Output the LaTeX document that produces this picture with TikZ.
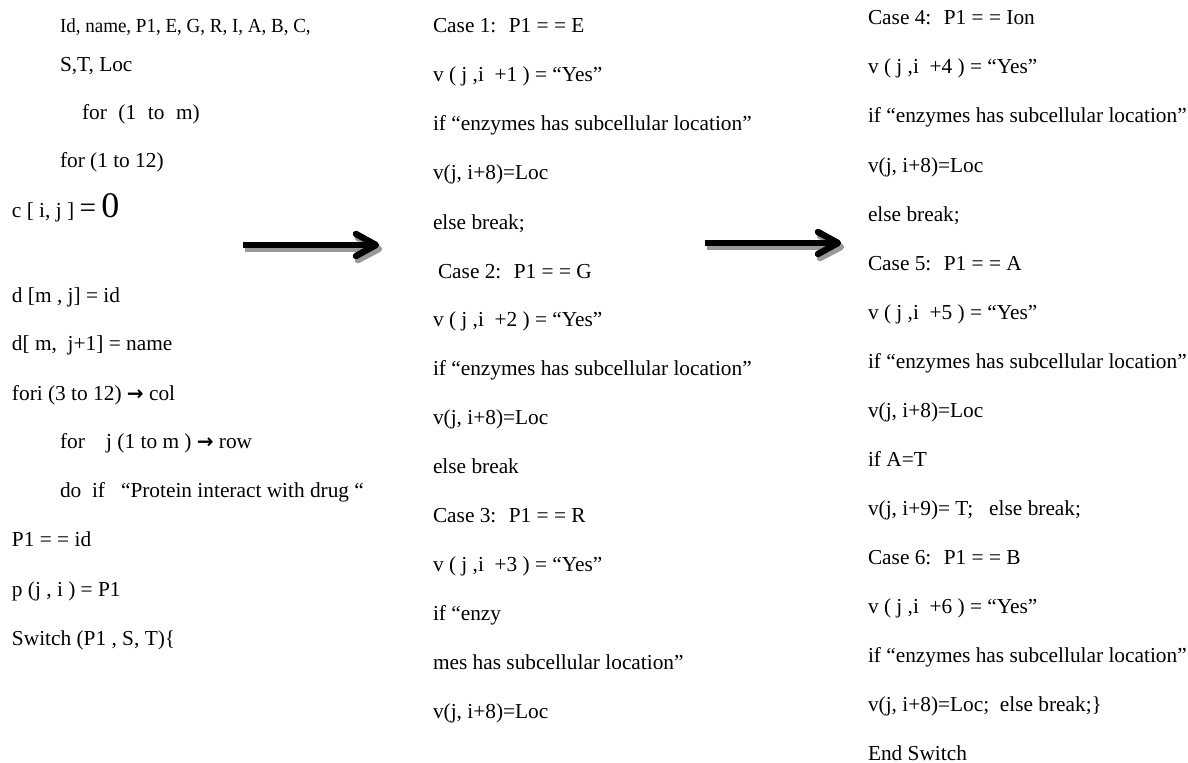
\documentclass[tikz,border=0pt]{standalone}
\usepackage{fontspec}
\setmainfont{Liberation Serif}
\newfontfamily\arrowfont{DejaVu Sans}
\newcommand{\rarr}{{\arrowfont\bfseries\fontsize{15}{15}\selectfont →}}
\newcommand{\wsp}{\hspace{4.7pt}}
\begin{document}
\begin{tikzpicture}[x=0.75pt,y=-0.75pt,
  codeline/.style={anchor=base west,inner sep=0pt,outer sep=0pt,font=\fontsize{16}{19}\selectfont},
  shaftline/.style={line width=4.5pt,black},
  shadowline/.style={line width=4.5pt,black!40},
  headline/.style={line width=4.8pt,black,line cap=round,line join=round}]
\useasboundingbox (0,0) rectangle (1188,763);
% column 1
\node[codeline,font=\fontsize{15}{18}\selectfont] (l1) at (60,33) {\scalebox{0.95}[1]{Id, name, P1, E, G, R, I, A, B, C,}};
\node[codeline] (l2) at (60,72) {S,T, Loc};
\node[codeline] (l3) at (82,120) {for \wsp(1 \wsp to \wsp m)};
\node[codeline] (l4) at (60,168) {for (1 to 12)};
\node[codeline] (l5) at (12,217) {c [ i, j ] {\fontsize{22}{22}\selectfont =} {\fontsize{27}{27}\selectfont 0}};
\node[codeline] (l6) at (12,302) {d [m , j] = id};
\node[codeline] (l7) at (12,350) {d[ m, \ j+1] = name};
\node[codeline] (l8) at (12,400) {fori (3 to 12) \rarr\ col};
\node[codeline] (l9) at (60,448) {for \ \ \ j (1 to m ) \rarr\ row};
\node[codeline] (l10) at (60,497) {do \ if \ \ “Protein interact with drug “};
\node[codeline] (l11) at (12,546) {P1 = = id};
\node[codeline] (l12) at (12,596) {p (j , i ) = P1};
\node[codeline] (l13) at (12,645) {Switch (P1 , S, T)\{};
% column 2
\node[codeline] (m1) at (433,33) {Case 1: \ P1 = = E};
\node[codeline] (m2) at (433,82) {v ( j ,i \ +1 ) = “Yes”};
\node[codeline] (m3) at (433,131) {if “enzymes has subcellular location”};
\node[codeline] (m4) at (433,180) {v(j, i+8)=Loc};
\node[codeline] (m5) at (433,229) {else break;};
\node[codeline] (m6) at (438,278) {Case 2: \ P1 = = G};
\node[codeline] (m7) at (433,326) {v ( j ,i \ +2 ) = “Yes”};
\node[codeline] (m8) at (433,375) {if “enzymes has subcellular location”};
\node[codeline] (m9) at (433,424) {v(j, i+8)=Loc};
\node[codeline] (m10) at (433,473) {else break};
\node[codeline] (m11) at (433,522) {Case 3: \ P1 = = R};
\node[codeline] (m12) at (433,571) {v ( j ,i \ +3 ) = “Yes”};
\node[codeline] (m13) at (433,620) {if “enzy};
\node[codeline] (m14) at (433,669) {mes has subcellular location”};
\node[codeline] (m15) at (433,718) {v(j, i+8)=Loc};
% column 3
\node[codeline] (r1) at (868,25) {Case 4: \ P1 = = Ion};
\node[codeline] (r2) at (868,74) {v ( j ,i \ +4 ) = “Yes”};
\node[codeline] (r3) at (868,123) {if “enzymes has subcellular location”};
\node[codeline] (r4) at (868,172) {v(j, i+8)=Loc};
\node[codeline] (r5) at (868,221) {else break;};
\node[codeline] (r6) at (868,270) {Case 5: \ P1 = = A};
\node[codeline] (r7) at (868,319) {v ( j ,i \ +5 ) = “Yes”};
\node[codeline] (r8) at (868,368) {if “enzymes has subcellular location”};
\node[codeline] (r9) at (868,417) {v(j, i+8)=Loc};
\node[codeline] (r10) at (868,466) {if A=T};
\node[codeline] (r11) at (868,515) {v(j, i+9)= T; \ \ else break;};
\node[codeline] (r12) at (868,564) {Case 6: \ P1 = = B};
\node[codeline] (r13) at (868,613) {v ( j ,i \ +6 ) = “Yes”};
\node[codeline] (r14) at (868,662) {if “enzymes has subcellular location”};
\node[codeline] (r15) at (868,711) {v(j, i+8)=Loc; \ else break;\}};
\node[codeline] (r16) at (868,760) {End Switch};
% arrows
\coordinate (a1s) at (243,245); \coordinate (a1e) at (376,245);
\coordinate (a2s) at (705,243); \coordinate (a2e) at (838,243);
\foreach \s/\e in {a1s/a1e,a2s/a2e}{
  \draw[shadowline] ([shift={(2,4)}]\s) -- ([shift={(-4,4)}]\e);
  \draw[headline,black!40] ([shift={(-18,-7)}]\e) -- ([shift={(3,4)}]\e) -- ([shift={(-18,15)}]\e);
  \draw[shaftline] (\s) -- ([shift={(-4,0)}]\e);
  \draw[headline] ([shift={(-20,-11)}]\e) -- (\e) -- ([shift={(-20,11)}]\e);
}
\end{tikzpicture}
\end{document}
